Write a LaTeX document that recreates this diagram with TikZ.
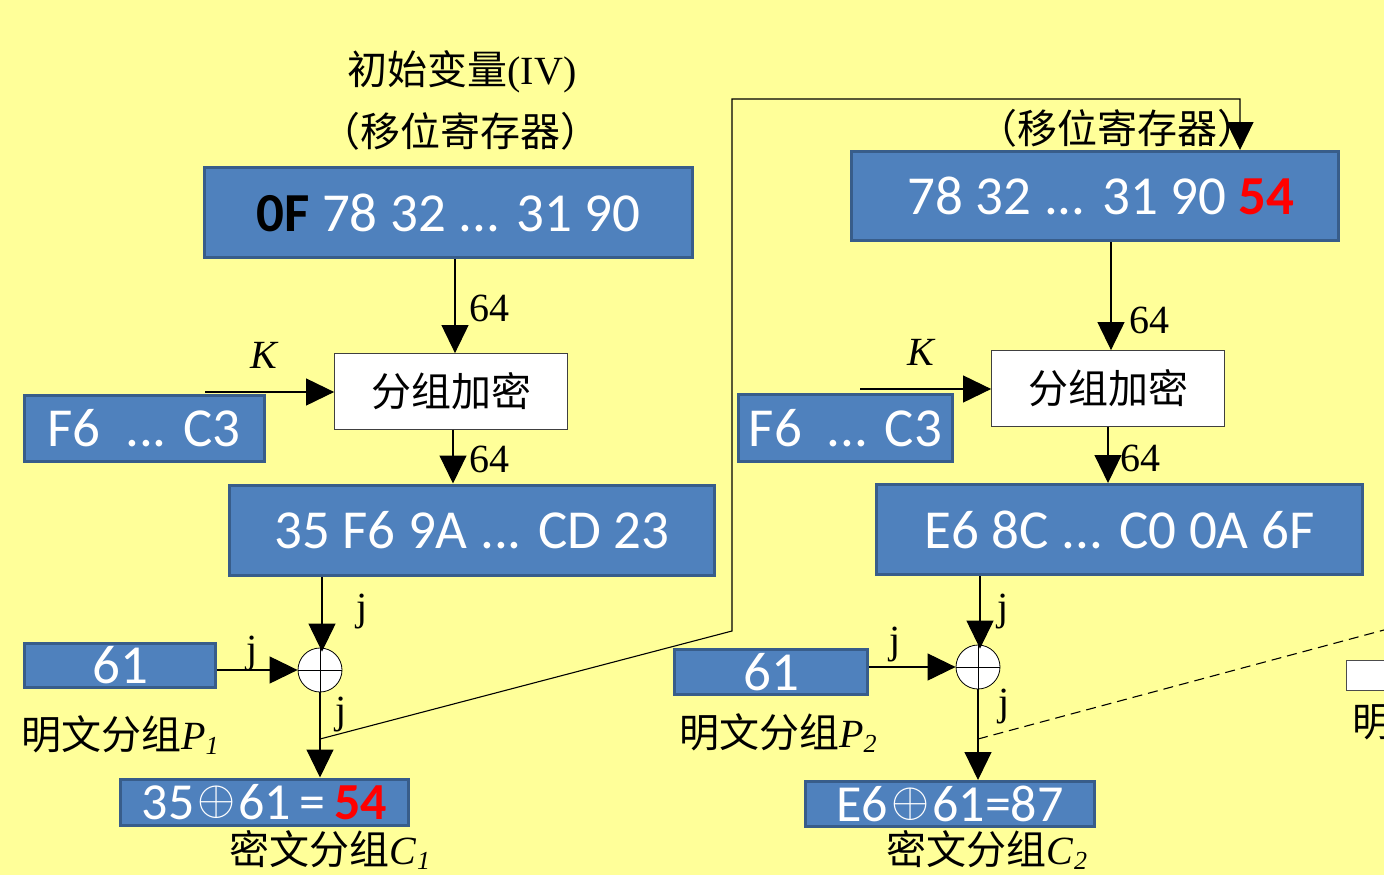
\documentclass[tikz,border=0pt]{standalone}
\usepackage{fontspec}
\usepackage{graphicx}
\setmainfont{Liberation Serif}
\newfontfamily\calfont{Carlito}
\newfontfamily\cjk{Noto Sans CJK SC}
\usetikzlibrary{arrows.meta}
\definecolor{bg}{RGB}{255,255,153}
\definecolor{boxblue}{RGB}{79,129,189}
\definecolor{boxedge}{RGB}{56,93,138}
\definecolor{hexred}{RGB}{255,0,0}
\newcommand\subidx[1]{\raisebox{-0.3ex}{\fontsize{26}{28}\selectfont\itshape #1}}
\newcommand\myxorsym{\hspace{3pt}\raisebox{5pt}{{\fontsize{10}{12}\selectfont\scalebox{4.9}{$\oplus$}}}\hspace{3pt}}
\begin{document}
\begin{tikzpicture}[x=1pt,y=-1pt,
  bluebox/.style={draw=boxedge, line width=3pt, fill=boxblue, text=white, inner sep=0pt, font=\calfont\fontsize{55}{60}\selectfont},
  encbox/.style={draw=black!75, line width=0.8pt, fill=white, inner sep=0pt, minimum width=233, minimum height=76, font=\cjk\fontsize{40}{44}\selectfont},
  xorc/.style={circle, draw, line width=0.8pt, fill=white, minimum size=44, inner sep=0pt,
    path picture={\draw[line width=0.8pt] (path picture bounding box.north) -- (path picture bounding box.south) (path picture bounding box.west) -- (path picture bounding box.east);}},
  conn/.style={line width=1.1pt},
  arr/.style={conn, -{Triangle[length=28pt,width=27pt]}},
  lbl/.style={font=\fontsize{40}{44}\selectfont, inner sep=0pt},
  cjklbl/.style={font=\fontsize{40}{44}\selectfont, inner sep=0pt},
  toplbl/.style={font=\fontsize{40}{44}\selectfont, inner sep=0pt},
]
\fill[bg] (0,0) rectangle (1384,875);
\useasboundingbox (0,0) rectangle (1384,875);

% ---------- left column ----------
\node[toplbl] (t1a) at (462,72) {{\cjk 初始变量}(IV)};
\node[toplbl] (t1b) at (460,131) {\cjk （移位寄存器）};
\node[bluebox, minimum width=488, minimum height=90] (iv) at (448.5,212.5)
  {\textcolor{black}{\bfseries 0F} 78 32 ... 31 90};
\node[encbox] (enc1) at (451,391.5) {分组加密};
\node[bluebox, minimum width=240, minimum height=66] (k1box) at (144,428) {F6\ \ ... C3};
\node[bluebox, minimum width=485, minimum height=90] (o1) at (472,530) {35 F6 9A ... CD 23};
\node[xorc] (x1) at (320,670) {};
\node[bluebox, minimum width=191, minimum height=44] (p1) at (120,665.5) {61};
\node[cjklbl] (lp1) at (120,735) {{\cjk 明文分组}\textit{P}\subidx{1}};
\node[bluebox, minimum width=288, minimum height=46, font=\calfont\fontsize{52}{56}\selectfont] (c1) at (264.5,802)
  {35\myxorsym 61\,=\,\textcolor{hexred}{\bfseries 54}};
\node[cjklbl] (lc1) at (330,850) {{\cjk 密文分组}\textit{C}\subidx{1}};

\draw[arr] ([xshift=4pt]enc1.north |- iv.south) -- ([xshift=4pt]enc1.north);
\node[lbl] (n64a) at (489,308) {64};
\coordinate (k1) at (205,392);
\draw[arr] (k1) -- (k1 -| enc1.west);
\node[lbl] (kA) at (265,355) {\textit{K}};
\draw[arr] ([xshift=2pt]enc1.south) -- ([xshift=2pt]enc1.south |- o1.north);
\node[lbl] (n64b) at (489,459) {64};
\draw[arr] ([xshift=2pt]x1.north |- o1.south) -- ([xshift=2pt,yshift=-4pt]x1.north);
\node[lbl] (jA) at (362,612) {j};
\draw[arr] (p1.east |- x1.west) -- (x1.west);
\node[lbl] (jB) at (252,654) {j};
\draw[arr] (x1.south) -- (x1.south |- c1.north);
\node[lbl] (jC) at (341,715) {j};
\coordinate (b1) at (320,739);
\coordinate (m1) at (732,631);
\coordinate (t1) at (732,99);
\coordinate (t2) at (1240,99);

% ---------- right column ----------
\node[toplbl] (t2b) at (1117,128) {\cjk （移位寄存器）};
\node[bluebox, minimum width=487, minimum height=89] (reg2) at (1095,196)
  {\hspace{12pt}78 32 ... 31 90 \textcolor{hexred}{\bfseries 54}};
\node[encbox] (enc2) at (1108,388.5) {分组加密};
\node[bluebox, minimum width=214, minimum height=67] (k2box) at (845.5,428) {F6\ \ ... C3};
\node[bluebox, minimum width=486, minimum height=90] (o2) at (1119.5,529.5) {E6 8C ... C0 0A 6F};
\node[xorc] (x2) at (978,667) {};
\node[bluebox, minimum width=193, minimum height=45] (p2) at (771,672) {61};
\node[cjklbl] (lp2) at (778,733) {{\cjk 明文分组}\textit{P}\subidx{2}};
\node[bluebox, minimum width=289, minimum height=45, font=\calfont\fontsize{52}{56}\selectfont] (c2) at (950,804)
  {E6\myxorsym 61=87};
\node[cjklbl] (lc2) at (987,850) {{\cjk 密文分组}\textit{C}\subidx{2}};

\draw[arr] (b1) -- (m1) -- (t1) -- (t2) -- (t2 |- reg2.north);

\draw[arr] ([xshift=3pt]enc2.north |- reg2.south) -- ([xshift=3pt]enc2.north);
\node[lbl] (n64c) at (1149,320) {64};
\coordinate (k2) at (860,389);
\draw[arr] (k2) -- (k2 -| enc2.west);
\node[lbl] (kB) at (922,352) {\textit{K}};
\draw[arr] (enc2.south) -- (enc2.south |- o2.north);
\node[lbl] (n64d) at (1140,458) {64};
\draw[arr] ([xshift=2pt]x2.north |- o2.south) -- ([xshift=2pt,yshift=-4pt]x2.north);
\node[lbl] (jD) at (1003,612) {j};
\draw[arr] (p2.east |- x2.west) -- (x2.west);
\node[lbl] (jE) at (895,645) {j};
\draw[arr] (x2.south) -- (x2.south |- c2.north);
\node[lbl] (jF) at (1004,707) {j};
\coordinate (b2) at (978,739);
\coordinate (e2) at (1384,630);
\draw[conn, dash pattern=on 10pt off 6pt] (b2) -- (e2);

% ---------- partial third column ----------
\node[draw=black!70, line width=0.8pt, fill=white, minimum width=60, minimum height=30, inner sep=0pt, anchor=west] (p3) at (1346,675.5) {};
\node[cjklbl, anchor=west] (lp3) at (1352,722) {\cjk 明};
\end{tikzpicture}
\end{document}
